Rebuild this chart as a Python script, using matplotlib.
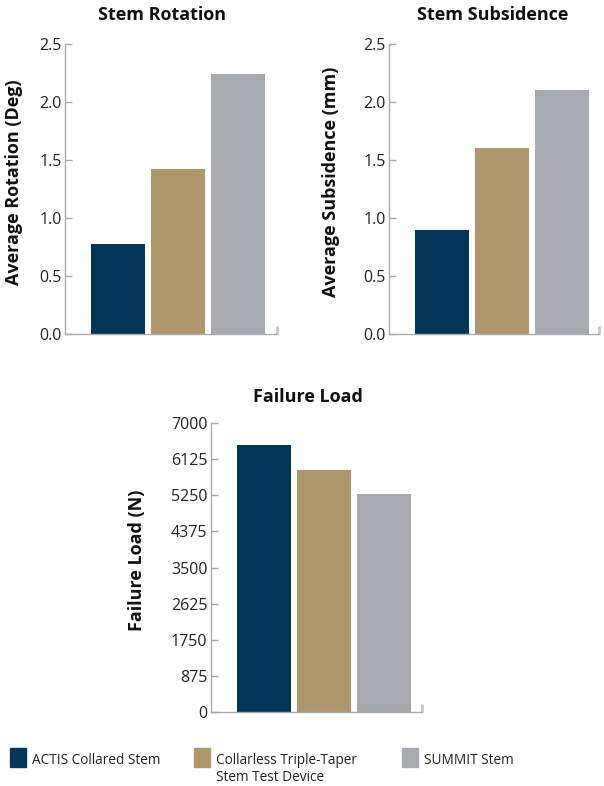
import matplotlib
matplotlib.use("Agg")
import matplotlib.pyplot as plt
from matplotlib.patches import Rectangle

plt.rcParams['font.family'] = ['Open Sans', 'DejaVu Sans']

# Data
groups = ["ACTIS Collared Stem", "Collarless Triple-Taper\nStem Test Device", "SUMMIT Stem"]
colors = ["#02375A", "#AE976A", "#A7ABAF"]

rotation = [0.78, 1.42, 2.24]
rotation_ticks = [0.0, 0.5, 1.0, 1.5, 2.0, 2.5]

subsidence = [0.90, 1.60, 2.10]
subsidence_ticks = [0.0, 0.5, 1.0, 1.5, 2.0, 2.5]

failure = [6460, 5860, 5270]
failure_ticks = [0, 875, 1750, 2625, 3500, 4375, 5250, 6125, 7000]

W, H = 604, 786
fig = plt.figure(figsize=(W / 100, H / 100), dpi=100)

def px_axes(left, top, right, bottom):
    return fig.add_axes([left / W, 1 - bottom / H, (right - left) / W, (bottom - top) / H])

spine_col = "#A9A9A9"
text_col = "#222222"

def bar_panel(ax, values, ticks, fmt, xlim=(-0.88, 2.63)):
    x = list(range(len(values)))
    ax.bar(x, values, width=0.9, color=colors, zorder=2)
    ax.set_xlim(*xlim)
    ax.set_ylim(ticks[0], ticks[-1])
    ax.set_yticks(ticks)
    ax.set_yticklabels([fmt(t) for t in ticks])
    ax.set_xticks([xlim[1]])
    ax.set_xticklabels([])
    ax.tick_params(axis='x', direction='in', length=6, width=2, color="#C8C8C8")
    ax.tick_params(axis='y', direction='in', length=5, width=1, color=spine_col,
                   labelsize=11.5, labelcolor=text_col, pad=2.5)
    for s in ("top", "right"):
        ax.spines[s].set_visible(False)
    for s in ("left", "bottom"):
        ax.spines[s].set_color(spine_col)
        ax.spines[s].set_linewidth(1.0)

ax1 = px_axes(65, 44, 277, 334)
bar_panel(ax1, rotation, rotation_ticks, lambda t: f"{t:.1f}", xlim=(-0.88, 2.65))

ax2 = px_axes(389, 44, 599, 334)
bar_panel(ax2, subsidence, subsidence_ticks, lambda t: f"{t:.1f}", xlim=(-0.88, 2.62))

ax3 = px_axes(211, 423, 422, 712)
bar_panel(ax3, failure, failure_ticks, lambda t: f"{t:d}", xlim=(-0.88, 2.63))

# Titles
title_kw = dict(fontsize=13, fontweight='bold', color="#111111", ha='center', va='center')
fig.text(162 / W, 1 - 15 / H, "Stem Rotation", **title_kw)
fig.text(493 / W, 1 - 15 / H, "Stem Subsidence", **title_kw)
fig.text(308 / W, 1 - 397 / H, "Failure Load", **title_kw)

# Axis labels
ylab_kw = dict(fontsize=13, fontweight='bold', color="#111111", ha='center', va='center',
               rotation=90)
fig.text(14 / W, 1 - 182 / H, "Average Rotation (Deg)", **ylab_kw)
fig.text(331 / W, 1 - 182 / H, "Average Subsidence (mm)", **ylab_kw)
fig.text(137 / W, 1 - 560 / H, "Failure Load (N)", **ylab_kw)

# Legend: one swatch per group, each label line placed on its own baseline
leg_x = [10, 194, 402]
baselines = [764, 781]
for lx, c, label in zip(leg_x, colors, groups):
    fig.patches.append(Rectangle((lx / W, 1 - 767 / H), 16 / W, 19 / H, color=c,
                                 transform=fig.transFigure, figure=fig))
    for line, by in zip(label.split("\n"), baselines):
        fig.text((lx + 22) / W, 1 - by / H, line, fontsize=9.8, color=text_col,
                 ha='left', va='baseline')

fig.savefig("out.png", dpi=100)
